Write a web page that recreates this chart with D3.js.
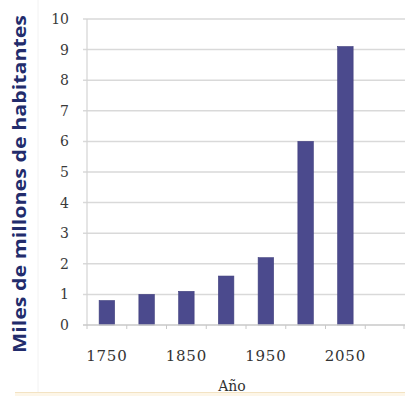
<!DOCTYPE html>
<html>
<head>
<meta charset="utf-8">
<script src="https://cdn.jsdelivr.net/npm/d3@7"></script>
<style>
  html, body { margin: 0; padding: 0; background: #ffffff; }
  svg { display: block; }
</style>
</head>
<body>
<svg id="chart" width="405" height="396"></svg>
<script>
// Población mundial (miles de millones) por año
const years = ["1750", "1800", "1850", "1900", "1950", "2000", "2050", "2100"];
const population = [0.8, 1.0, 1.1, 1.6, 2.2, 6.0, 9.1, null];
const xTickLabels = ["1750", "1850", "1950", "2050"];
const yTicks = [0, 1, 2, 3, 4, 5, 6, 7, 8, 9, 10];
const yTitle = "Miles de millones de habitantes";
const xTitle = "Año";

const svg = d3.select("#chart");
const W = 405, H = 396;
const plot = { left: 87, right: 405, top: 19, bottom: 325 };

const x = d3.scaleBand()
  .domain(years)
  .range([plot.left, plot.right])
  .paddingInner(0.61)
  .paddingOuter(0.305);

const y = d3.scaleLinear()
  .domain([0, 10])
  .range([plot.bottom, plot.top]);

// faint frame on the left
svg.append("line")
  .attr("x1", 38).attr("x2", 38).attr("y1", 0).attr("y2", H)
  .attr("stroke", "#f2f2f2").attr("stroke-width", 1);

// horizontal gridlines with outside tick marks
svg.append("g")
  .selectAll("line")
  .data(yTicks.filter(d => d > 0))
  .join("line")
  .attr("x1", plot.left - 4)
  .attr("x2", plot.right)
  .attr("y1", d => y(d))
  .attr("y2", d => y(d))
  .attr("stroke", "#d9d9d9")
  .attr("stroke-width", 1.5);

// y axis line
svg.append("line")
  .attr("x1", plot.left).attr("x2", plot.left)
  .attr("y1", y(10)).attr("y2", y(0))
  .attr("stroke", "#d4d4d4").attr("stroke-width", 1.2);

// y tick labels
svg.append("g")
  .selectAll("text")
  .data(yTicks)
  .join("text")
  .attr("x", 69)
  .attr("y", d => y(d))
  .attr("dy", "0.36em")
  .attr("text-anchor", "end")
  .attr("font-family", "'DejaVu Serif', 'Liberation Serif', serif")
  .attr("font-size", 14)
  .attr("fill", "#3a3a3a")
  .text(d => d);

// bars
const barData = years.map((yr, i) => ({ yr, v: population[i] })).filter(d => d.v != null);
svg.append("g")
  .selectAll("rect")
  .data(barData)
  .join("rect")
  .attr("x", d => x(d.yr))
  .attr("y", d => y(d.v))
  .attr("width", x.bandwidth())
  .attr("height", d => y(0) - y(d.v))
  .attr("fill", "#4b4a8d")
  .attr("stroke", "#3f3e7c")
  .attr("stroke-width", 0.6);

// x axis line and category boundary ticks
const gap = (x.step() - x.bandwidth()) / 2;
const bounds = years.map(yr => x(yr) - gap).concat([plot.right - 1]);
svg.append("line")
  .attr("x1", plot.left - 4).attr("x2", plot.right)
  .attr("y1", y(0)).attr("y2", y(0))
  .attr("stroke", "#c8c8c8").attr("stroke-width", 1.5);
svg.append("g")
  .selectAll("line")
  .data(bounds)
  .join("line")
  .attr("x1", d => d).attr("x2", d => d)
  .attr("y1", y(0)).attr("y2", y(0) + 4)
  .attr("stroke", "#c8c8c8").attr("stroke-width", 1);

// x tick labels (every other year)
const xAxis = d3.axisBottom(x).tickValues(xTickLabels).tickSize(0).tickPadding(0);
const gx = svg.append("g")
  .attr("transform", `translate(0, ${y(0)})`)
  .call(xAxis);
gx.select(".domain").remove();
gx.selectAll("text")
  .attr("y", 36)
  .attr("dy", 0)
  .attr("font-family", "'DejaVu Serif', 'Liberation Serif', serif")
  .attr("font-size", 15)
  .attr("letter-spacing", 0.8)
  .attr("fill", "#333333");

// pale strip along the bottom edge
svg.append("rect")
  .attr("x", 15).attr("y", 392).attr("width", W - 15).attr("height", 4)
  .attr("fill", "#fdf6e8");
svg.append("line")
  .attr("x1", 15).attr("x2", W).attr("y1", 392.5).attr("y2", 392.5)
  .attr("stroke", "#f3e3c3").attr("stroke-width", 1);

// axis titles
svg.append("text")
  .attr("x", 232)
  .attr("y", 391)
  .attr("text-anchor", "middle")
  .attr("font-family", "'DejaVu Serif', 'Liberation Serif', serif")
  .attr("font-size", 14)
  .attr("fill", "#333333")
  .text(xTitle);

svg.append("text")
  .attr("transform", "translate(26, 184) rotate(-90)")
  .attr("text-anchor", "middle")
  .attr("font-family", "'Open Sans', 'Noto Sans', sans-serif")
  .attr("font-weight", 700)
  .attr("font-size", 17)
  .attr("textLength", 338)
  .attr("lengthAdjust", "spacingAndGlyphs")
  .attr("fill", "#222c6c")
  .text(yTitle);
</script>
</body>
</html>
